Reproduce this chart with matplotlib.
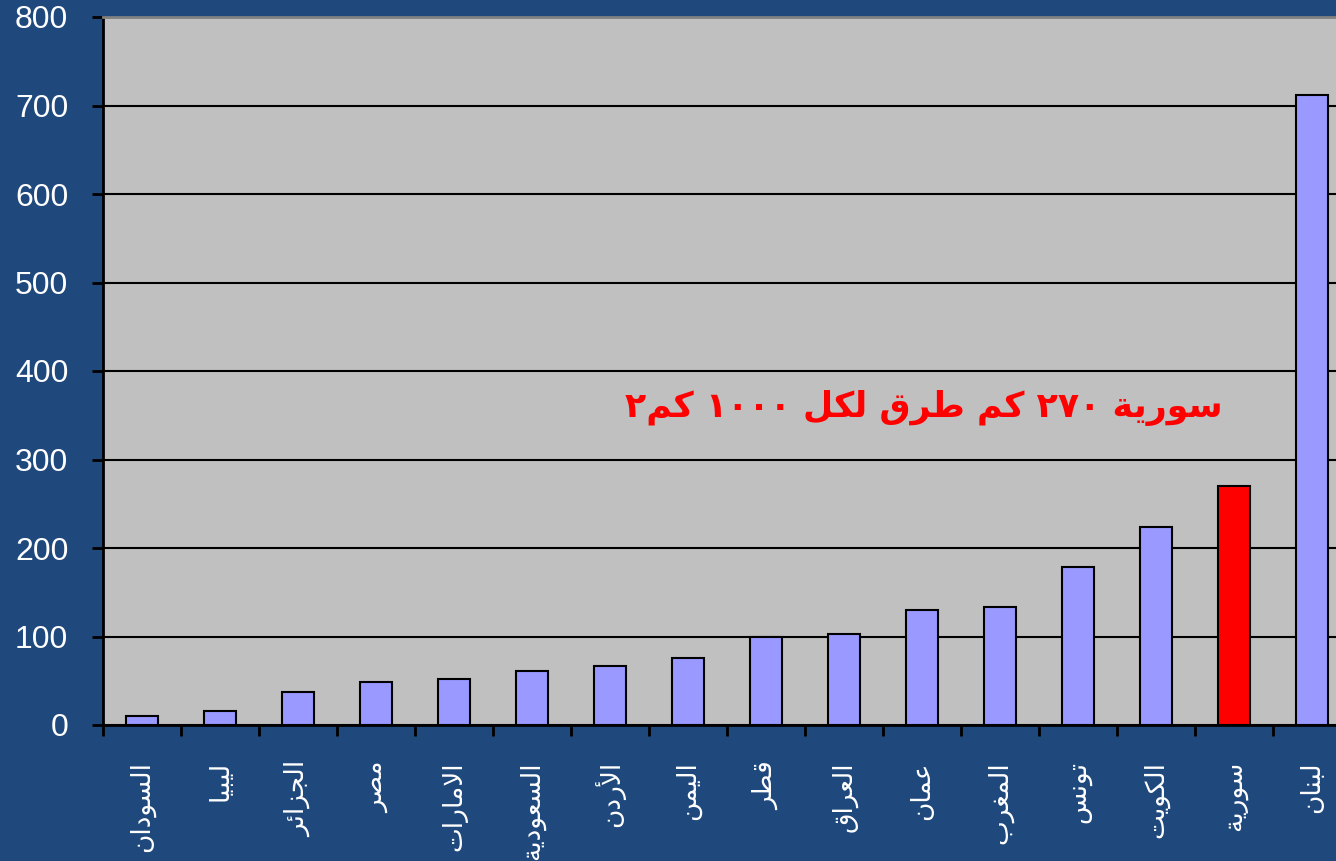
import matplotlib
matplotlib.use("Agg")
import matplotlib.pyplot as plt

# road density (km of road per 1000 km2)
countries = ["السودان", "ليبيا", "الجزائر", "مصر", "الامارات", "السعودية", "الأردن", "اليمن",
             "قطر", "العراق", "عمان", "المغرب", "تونس", "الكويت", "سورية", "لبنان"]
density = [10, 16, 37, 49, 52, 61, 67, 76, 100, 103, 130, 133, 178, 224, 270, 712]
highlight = "سورية"
note = "سورية ٢٧٠ كم طرق لكل ١٠٠٠ كم٢"
yticks = [0, 100, 200, 300, 400, 500, 600, 700, 800]

# --- minimal arabic shaping (matplotlib has no text shaping) ---
# forms: isolated, final, initial, medial
FORMS = {
    'ا': (0xFE8D, 0xFE8E), 'أ': (0xFE83, 0xFE84), 'ب': (0xFE8F, 0xFE90, 0xFE91, 0xFE92),
    'ة': (0xFE93, 0xFE94), 'ت': (0xFE95, 0xFE96, 0xFE97, 0xFE98), 'ج': (0xFE9D, 0xFE9E, 0xFE9F, 0xFEA0),
    'د': (0xFEA9, 0xFEAA), 'ر': (0xFEAD, 0xFEAE), 'ز': (0xFEAF, 0xFEB0),
    'س': (0xFEB1, 0xFEB2, 0xFEB3, 0xFEB4), 'ص': (0xFEB9, 0xFEBA, 0xFEBB, 0xFEBC),
    'ط': (0xFEC1, 0xFEC2, 0xFEC3, 0xFEC4), 'ع': (0xFEC9, 0xFECA, 0xFECB, 0xFECC),
    'غ': (0xFECD, 0xFECE, 0xFECF, 0xFED0), 'ق': (0xFED5, 0xFED6, 0xFED7, 0xFED8),
    'ك': (0xFED9, 0xFEDA, 0xFEDB, 0xFEDC), 'ل': (0xFEDD, 0xFEDE, 0xFEDF, 0xFEE0),
    'م': (0xFEE1, 0xFEE2, 0xFEE3, 0xFEE4), 'ن': (0xFEE5, 0xFEE6, 0xFEE7, 0xFEE8),
    'و': (0xFEED, 0xFEEE), 'ي': (0xFEF1, 0xFEF2, 0xFEF3, 0xFEF4), 'ئ': (0xFE89, 0xFE8A, 0xFE8B, 0xFE8C),
}
LAMALEF = {'ا': (0xFEFB, 0xFEFC), 'أ': (0xFEF7, 0xFEF8)}


def dual(c):
    return c in FORMS and len(FORMS[c]) == 4


def shape(s):
    out = []
    i = 0
    while i < len(s):
        c = s[i]
        prev = s[i - 1] if i > 0 else ''
        nxt = s[i + 1] if i + 1 < len(s) else ''
        if c not in FORMS:
            out.append(c)
            i += 1
            continue
        jp = dual(prev)
        if c == 'ل' and nxt in LAMALEF:
            out.append(chr(LAMALEF[nxt][1 if jp else 0]))
            i += 2
            continue
        jn = dual(c) and nxt in FORMS
        f = FORMS[c]
        if jp and jn:
            out.append(chr(f[3]))
        elif jp:
            out.append(chr(f[1]))
        elif jn:
            out.append(chr(f[2]))
        else:
            out.append(chr(f[0]))
        i += 1
    return ''.join(out)


def visual(s):
    s = shape(s)
    runs = []
    for ch in s:
        d = '\u0660' <= ch <= '\u0669' or ch.isdigit()
        if runs and runs[-1][0] == d:
            runs[-1][1].append(ch)
        else:
            runs.append([d, [ch]])
    res = ''
    for d, chs in reversed(runs):
        res += ''.join(chs) if d else ''.join(reversed(chs))
    return res


BG = "#1F497D"
fig = plt.figure(figsize=(13.36, 8.61), dpi=100, facecolor=BG)
ax = fig.add_axes([103 / 1336, 136 / 861, 1248 / 1336, 708 / 861])
ax.set_facecolor("#C0C0C0")

x = range(len(countries))
colors = ["#FF0000" if c == highlight else "#9999FF" for c in countries]
ax.bar(x, density, width=0.4, color=colors, edgecolor="black", linewidth=1.5, zorder=3)

ax.set_ylim(0, 800)
ax.set_xlim(-0.5, len(countries) - 0.5)
ax.set_yticks(yticks)
ax.yaxis.grid(True, color="black", linewidth=1.5, zorder=1)
ax.set_axisbelow(True)

ax.set_xticks([i - 0.5 for i in range(len(countries) + 1)])
ax.set_xticklabels([])
ax.set_xticks(list(x), minor=True)
ax.set_xticklabels([visual(c) for c in countries], minor=True, rotation=90,
                   family=["DejaVu Sans"], fontsize=19, color="white", va="top", ha="center")
ax.tick_params(axis="x", which="major", direction="out", length=8, width=2, color="black")
ax.tick_params(axis="x", which="minor", length=0, pad=26)
ax.tick_params(axis="y", direction="out", length=8, width=2, color="black", pad=17,
               labelcolor="white", labelsize=23)
for lab in ax.get_yticklabels():
    lab.set_family(["Liberation Sans", "DejaVu Sans"])

for side in ["left", "bottom"]:
    ax.spines[side].set_linewidth(2)
    ax.spines[side].set_color("black")
ax.spines["top"].set_color("#808080")
ax.spines["top"].set_linewidth(2)
ax.spines["right"].set_visible(False)

ax.text(13.85, 358, visual(note), color="#FF0000", fontsize=25, fontweight="bold",
        family=["DejaVu Sans"], ha="right", va="center")

fig.savefig("out.png", dpi=100, facecolor=BG)
